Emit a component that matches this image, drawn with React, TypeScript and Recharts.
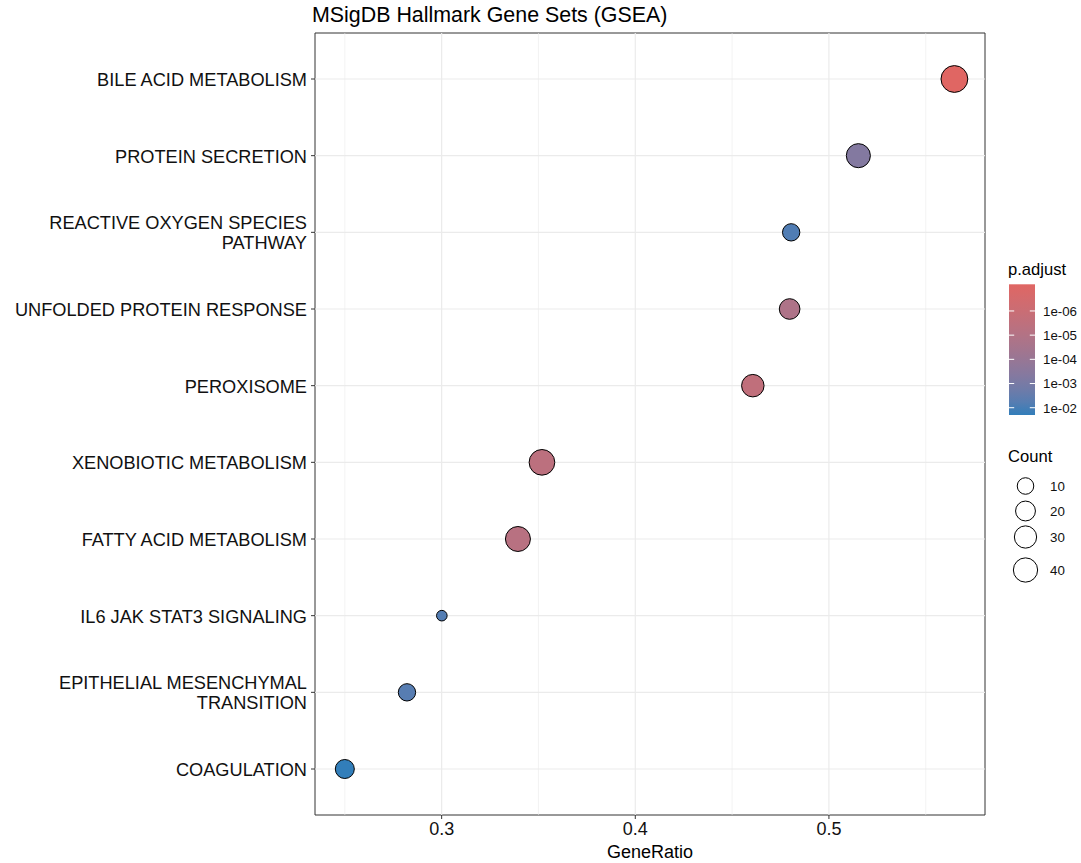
import React from 'react';
import { ScatterChart, Scatter, XAxis, YAxis, ZAxis, Cell, ReferenceLine, ReferenceArea } from 'recharts';

// gene sets, top to bottom
const TERMS = [
    'BILE ACID METABOLISM',
    'PROTEIN SECRETION',
    'REACTIVE OXYGEN SPECIES PATHWAY',
    'UNFOLDED PROTEIN RESPONSE',
    'PEROXISOME',
    'XENOBIOTIC METABOLISM',
    'FATTY ACID METABOLISM',
    'IL6 JAK STAT3 SIGNALING',
    'EPITHELIAL MESENCHYMAL TRANSITION',
    'COAGULATION',
];
const GENE_RATIO = [0.5648, 0.5152, 0.4805, 0.4797, 0.4607, 0.3518, 0.3394, 0.3001, 0.2821, 0.25];
const COUNT = [55, 39, 12, 23, 31, 48, 44, 3, 12, 17];
const P_ADJUST = [7.9e-8, 5e-4, 8e-3, 1.5e-5, 2.5e-6, 4e-6, 6e-6, 7e-3, 6e-3, 2e-2];

const X_DOMAIN = [0.2346, 0.5806];
const X_TICKS = [0.3, 0.4, 0.5];
const X_MINOR = [0.25, 0.35, 0.45, 0.55];
const P_RANGE = [7.9e-8, 2e-2];
const P_TICKS = [1e-6, 1e-5, 1e-4, 1e-3, 1e-2];
const P_TICK_LABELS = ['1e-06', '1e-05', '1e-04', '1e-03', '1e-02'];
const COUNT_BREAKS = [10, 20, 30, 40];
const COUNT_RANGE = [3, 55];

const LOW_COLOR = '#e06663';
const HIGH_COLOR = '#327eba';
const FONT = '"Liberation Sans", Arial, Helvetica, sans-serif';

// ---- colour helpers (ggplot interpolates in Lab) ----
const toLin = (c: number) => (c <= 0.04045 ? c / 12.92 : Math.pow((c + 0.055) / 1.055, 2.4));
const fromLin = (c: number) => (c <= 0.0031308 ? 12.92 * c : 1.055 * Math.pow(c, 1 / 2.4) - 0.055);
const hexToLab = (hex: string) => {
    const n = parseInt(hex.slice(1), 16);
    const r = toLin(((n >> 16) & 255) / 255);
    const g = toLin(((n >> 8) & 255) / 255);
    const b = toLin((n & 255) / 255);
    const X = (0.4124 * r + 0.3576 * g + 0.1805 * b) / 0.95047;
    const Y = 0.2126 * r + 0.7152 * g + 0.0722 * b;
    const Z = (0.0193 * r + 0.1192 * g + 0.9505 * b) / 1.08883;
    const f = (t: number) => (t > 0.008856 ? Math.cbrt(t) : 7.787 * t + 16 / 116);
    const fx = f(X), fy = f(Y), fz = f(Z);
    return [116 * fy - 16, 500 * (fx - fy), 200 * (fy - fz)];
};
const labToHex = ([L, a, b]: number[]) => {
    const fy = (L + 16) / 116;
    const fx = fy + a / 500;
    const fz = fy - b / 200;
    const inv = (t: number) => (t * t * t > 0.008856 ? t * t * t : (t - 16 / 116) / 7.787);
    const X = inv(fx) * 0.95047, Y = inv(fy), Z = inv(fz) * 1.08883;
    const r = 3.2406 * X - 1.5372 * Y - 0.4986 * Z;
    const g = -0.9689 * X + 1.8758 * Y + 0.0415 * Z;
    const bl = 0.0557 * X - 0.204 * Y + 1.057 * Z;
    const h = (c: number) => {
        const v = Math.round(Math.min(1, Math.max(0, fromLin(c))) * 255);
        return v.toString(16).padStart(2, '0');
    };
    return '#' + h(r) + h(g) + h(bl);
};
const LAB_LOW = hexToLab(LOW_COLOR);
const LAB_HIGH = hexToLab(HIGH_COLOR);
const pToT = (p: number) =>
    (Math.log10(p) - Math.log10(P_RANGE[0])) / (Math.log10(P_RANGE[1]) - Math.log10(P_RANGE[0]));
const colorAt = (t: number) => labToHex(LAB_LOW.map((v, i) => v + (LAB_HIGH[i] - v) * t));

// point radius like ggplot's area scale
const R_MIN = 5.3;
const R_MAX = 13.4;
const radiusOf = (c: number) =>
    R_MIN + (R_MAX - R_MIN) * Math.sqrt(Math.max(0, (c - COUNT_RANGE[0]) / (COUNT_RANGE[1] - COUNT_RANGE[0])));

const rows = TERMS.map((term, i) => ({
    idx: i,
    term,
    ratio: GENE_RATIO[i],
    count: COUNT[i],
    area: Math.PI * radiusOf(COUNT[i]) ** 2,
    color: colorAt(pToT(P_ADJUST[i])),
}));

const wrapLabel = (s: string, width = 30) => {
    const out: string[] = [];
    let cur = '';
    s.split(' ').forEach((w) => {
        if (cur && (cur + ' ' + w).length > width) {
            out.push(cur);
            cur = w;
        } else {
            cur = cur ? cur + ' ' + w : w;
        }
    });
    if (cur) out.push(cur);
    return out;
};

const TermTick = (props: any) => {
    const { x, y, payload } = props;
    const lines = wrapLabel(TERMS[payload.value] || '');
    const lh = 20;
    const y0 = y - ((lines.length - 1) * lh) / 2;
    return (
        <text x={x} y={y0} textAnchor='end' fontSize={18.2} fill='#111' fontFamily={FONT}>
            {lines.map((l, i) => (
                <tspan key={i} x={x} y={y0 + i * lh} dy='0.38em'>
                    {l}
                </tspan>
            ))}
        </text>
    );
};

const Legends = () => {
    const barTop = 284.3;
    const barH = 130.7;
    const barX = 1009;
    const barW = 26;
    const stops = Array.from({ length: 11 }, (_, i) => i / 10);
    const circleY = [486, 511, 537, 570];
    return (
        <svg width={1081} height={863} style={{ position: 'absolute', left: 0, top: 0, pointerEvents: 'none' }}>
            <defs>
                <linearGradient id='padj' x1='0' y1='0' x2='0' y2='1'>
                    {stops.map((t) => (
                        <stop key={t} offset={t} stopColor={colorAt(t)} />
                    ))}
                </linearGradient>
            </defs>
            <text x={1008} y={275} fontSize={16.6} fill='#000' fontFamily={FONT}>
                p.adjust
            </text>
            <rect x={barX} y={barTop} width={barW} height={barH} fill='url(#padj)' />
            {P_TICKS.map((p, i) => {
                const y = barTop + pToT(p) * barH;
                return (
                    <g key={i}>
                        <line x1={barX} x2={barX + 5.2} y1={y} y2={y} stroke='#fff' strokeWidth={1} />
                        <line x1={barX + barW - 5.2} x2={barX + barW} y1={y} y2={y} stroke='#fff' strokeWidth={1} />
                        <text x={1043} y={y} dy='0.36em' fontSize={13.3} fill='#111' fontFamily={FONT}>
                            {P_TICK_LABELS[i]}
                        </text>
                    </g>
                );
            })}
            <text x={1008} y={462} fontSize={16.6} fill='#000' fontFamily={FONT}>
                Count
            </text>
            {COUNT_BREAKS.map((c, i) => (
                <g key={c}>
                    <circle cx={1025.5} cy={circleY[i]} r={radiusOf(c)} fill='#fff' stroke='#000' strokeWidth={1} />
                    <text x={1050} y={circleY[i]} dy='0.36em' fontSize={13.3} fill='#111' fontFamily={FONT}>
                        {c}
                    </text>
                </g>
            ))}
        </svg>
    );
};

const App = () => {
    return (
        <div style={{ position: 'absolute', left: 0, top: 0, width: 1081, height: 863, background: '#fff', fontFamily: FONT }}>
            <div style={{ position: 'absolute', left: 312, top: 3, fontSize: 21.4, color: '#000', whiteSpace: 'nowrap' }}>
                MSigDB Hallmark Gene Sets (GSEA)
            </div>
            <ScatterChart width={1081} height={863} margin={{ top: 33, right: 96, bottom: 0, left: 15 }}>
                {TERMS.map((_, i) => (
                    <ReferenceLine key={'h' + i} y={i} stroke='#ebebeb' strokeWidth={1.2} />
                ))}
                {X_MINOR.map((v) => (
                    <ReferenceLine key={'m' + v} x={v} stroke='#ebebeb' strokeWidth={0.6} />
                ))}
                {X_TICKS.map((v) => (
                    <ReferenceLine key={'M' + v} x={v} stroke='#ebebeb' strokeWidth={1.2} />
                ))}
                <XAxis
                    type='number'
                    dataKey='ratio'
                    domain={X_DOMAIN}
                    ticks={X_TICKS}
                    allowDataOverflow
                    height={48}
                    axisLine={false}
                    tickSize={4}
                    tickMargin={3}
                    tickLine={{ stroke: '#333' }}
                    tick={{ fontSize: 18, fill: '#111' }}
                    tickFormatter={(v: number) => v.toFixed(1)}
                    label={{ value: 'GeneRatio', position: 'insideBottom', offset: 5, fontSize: 18, fill: '#000' }}
                />
                <YAxis
                    type='number'
                    dataKey='idx'
                    domain={[-0.6, TERMS.length - 0.4]}
                    ticks={TERMS.map((_, i) => i)}
                    interval={0}
                    reversed
                    allowDataOverflow
                    width={300}
                    axisLine={false}
                    tickSize={4}
                    tickMargin={4}
                    tickLine={{ stroke: '#333' }}
                    tick={<TermTick />}
                />
                <ZAxis type='number' dataKey='area' domain={[0, 1000]} range={[0, 1000]} />
                <Scatter data={rows} isAnimationActive={false} stroke='#000' strokeWidth={1}>
                    {rows.map((r, i) => (
                        <Cell key={i} fill={r.color} />
                    ))}
                </Scatter>
                <ReferenceArea
                    x1={X_DOMAIN[0]}
                    x2={X_DOMAIN[1]}
                    y1={-0.6}
                    y2={TERMS.length - 0.4}
                    fill='none'
                    fillOpacity={0}
                    stroke='#333'
                    strokeWidth={1}
                />
            </ScatterChart>
            <Legends />
        </div>
    );
};

export default App;
